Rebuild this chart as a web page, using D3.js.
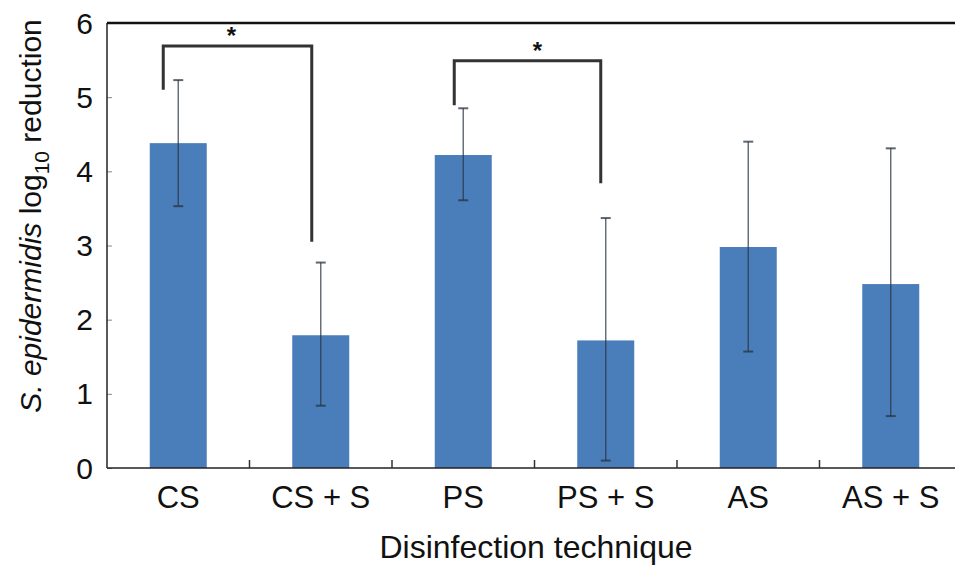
<!DOCTYPE html>
<html>
<head>
<meta charset="utf-8">
<script src="https://cdn.jsdelivr.net/npm/d3@7"></script>
<style>
  body { margin: 0; background: #fff; }
  text { font-family: "Liberation Sans", Arial, sans-serif; fill: #111; }
</style>
</head>
<body>
<div id="chart"></div>
<script>
// log10 reduction by disinfection technique, with error bars
const categories = ['CS', 'CS + S', 'PS', 'PS + S', 'AS', 'AS + S'];
const means = [4.38, 1.79, 4.22, 1.72, 2.98, 2.48];
const errHigh = [5.23, 2.77, 4.85, 3.37, 4.40, 4.31];
const errLow = [3.53, 0.84, 3.61, 0.10, 1.57, 0.70];
const yTicks = [0, 1, 2, 3, 4, 5, 6];

// significance brackets: from category, to category, left foot, top, right foot
const brackets = [
  { from: 0, to: 1, left: 5.10, top: 5.69, right: 3.05 },
  { from: 2, to: 3, left: 4.89, top: 5.49, right: 3.84 }
];

const width = 955, height = 568;
const margin = { top: 23, left: 107, bottom: 100 };
const plotRight = margin.left + 6 * 142.5;

const svg = d3.select('#chart').append('svg')
  .attr('width', width)
  .attr('height', height);

const x = d3.scaleBand()
  .domain(categories)
  .range([margin.left, plotRight])
  .paddingInner(0.6)
  .paddingOuter(0.3);

const y = d3.scaleLinear()
  .domain([0, 6])
  .range([height - margin.bottom, margin.top]);

const cx = d => x(d) + x.bandwidth() / 2;

// bars
svg.selectAll('.bar')
  .data(categories)
  .enter().append('rect')
  .attr('class', 'bar')
  .attr('x', d => x(d))
  .attr('width', x.bandwidth())
  .attr('y', (d, i) => y(means[i]))
  .attr('height', (d, i) => y(0) - y(means[i]))
  .attr('fill', '#4a7ebb');

// error bars
const err = svg.selectAll('.err')
  .data(categories)
  .enter().append('g')
  .attr('class', 'err')
  .attr('stroke', '#2a3340')
  .attr('stroke-opacity', 0.75)
  .attr('stroke-width', 1.4);

err.append('line')
  .attr('x1', cx).attr('x2', cx)
  .attr('y1', (d, i) => y(errHigh[i]))
  .attr('y2', (d, i) => y(errLow[i]));

err.append('line')
  .attr('x1', d => cx(d) - 5).attr('x2', d => cx(d) + 5)
  .attr('y1', (d, i) => y(errHigh[i]))
  .attr('y2', (d, i) => y(errHigh[i]))
  .attr('stroke-width', 2);

err.append('line')
  .attr('x1', d => cx(d) - 5).attr('x2', d => cx(d) + 5)
  .attr('y1', (d, i) => y(errLow[i]))
  .attr('y2', (d, i) => y(errLow[i]))
  .attr('stroke-width', 2);

// y axis
const yAxis = svg.append('g')
  .attr('transform', `translate(${margin.left},0)`)
  .call(d3.axisRight(y).tickValues(yTicks).tickSize(5).tickFormat(''));
yAxis.select('.domain').remove();
yAxis.selectAll('.tick line').attr('stroke', '#888');

svg.append('line')
  .attr('x1', margin.left).attr('x2', margin.left)
  .attr('y1', y(6)).attr('y2', y(0))
  .attr('stroke', '#222').attr('stroke-width', 1.5);

svg.selectAll('.ylabel')
  .data(yTicks)
  .enter().append('text')
  .attr('class', 'ylabel')
  .attr('x', 93)
  .attr('y', d => y(d) + 10.5)
  .attr('text-anchor', 'end')
  .attr('font-size', 30)
  .text(d => d);

// top frame line
svg.append('line')
  .attr('x1', margin.left).attr('x2', width)
  .attr('y1', y(6)).attr('y2', y(6))
  .attr('stroke', '#111').attr('stroke-width', 2.5);

// x axis with boundary ticks between categories
svg.append('line')
  .attr('x1', margin.left).attr('x2', width)
  .attr('y1', y(0)).attr('y2', y(0))
  .attr('stroke', '#222').attr('stroke-width', 1.5);

const gap = (x.step() - x.bandwidth()) / 2;
svg.selectAll('.xtick')
  .data(categories.slice(1))
  .enter().append('line')
  .attr('class', 'xtick')
  .attr('x1', d => x(d) - gap)
  .attr('x2', d => x(d) - gap)
  .attr('y1', y(0) - 8).attr('y2', y(0))
  .attr('stroke', '#333').attr('stroke-width', 1.5);

svg.selectAll('.xlabel')
  .data(categories)
  .enter().append('text')
  .attr('class', 'xlabel')
  .attr('x', cx)
  .attr('y', 508)
  .attr('text-anchor', 'middle')
  .attr('font-size', 31)
  .text(d => d);

// axis titles
svg.append('text')
  .attr('x', 536)
  .attr('y', 558)
  .attr('text-anchor', 'middle')
  .attr('font-size', 32)
  .text('Disinfection technique');

const yTitle = svg.append('text')
  .attr('transform', 'translate(41,216) rotate(-90)')
  .attr('text-anchor', 'middle')
  .attr('font-size', 30);
yTitle.append('tspan').attr('font-style', 'italic').text('S. epidermidis');
yTitle.append('tspan').text(' log');
yTitle.append('tspan').attr('font-size', 21).attr('dy', 8).text('10');
yTitle.append('tspan').attr('dy', -8).text(' reduction');

// significance brackets
brackets.forEach((b, k) => {
  const x0 = cx(categories[b.from]) - (k === 0 ? 15 : 9);
  const x1 = cx(categories[b.to]) - (k === 0 ? 9 : 5);
  const path = d3.path();
  path.moveTo(x0, y(b.left));
  path.lineTo(x0, y(b.top));
  path.lineTo(x1, y(b.top));
  path.lineTo(x1, y(b.right));
  svg.append('path')
    .attr('d', path.toString())
    .attr('fill', 'none')
    .attr('stroke', '#333')
    .attr('stroke-width', 3);
  svg.append('text')
    .attr('x', (x0 + x1) / 2 - (k === 0 ? 6 : -10))
    .attr('y', y(b.top) - 2)
    .attr('text-anchor', 'middle')
    .attr('font-size', 24)
    .attr('font-weight', 'bold')
    .text('*');
});
</script>
</body>
</html>
